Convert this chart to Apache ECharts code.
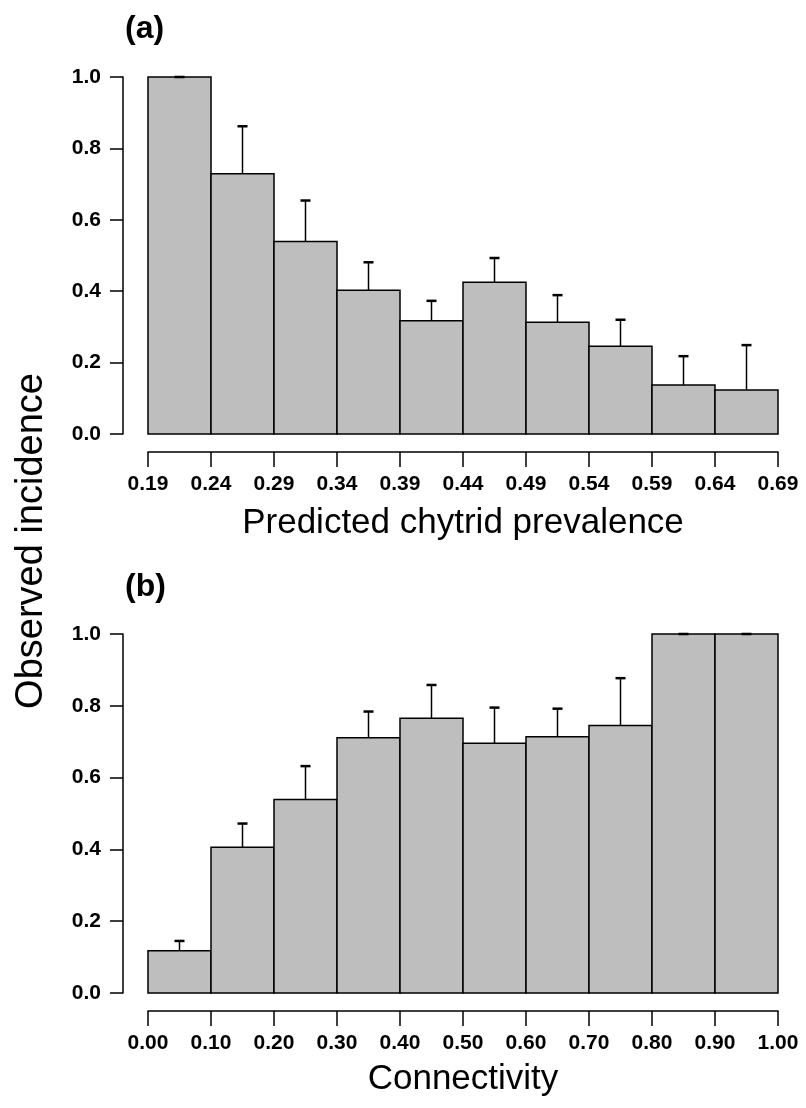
<!DOCTYPE html>
<html>
<head>
<meta charset="utf-8">
<script src="https://cdn.jsdelivr.net/npm/echarts@6/dist/echarts.min.js"></script>
<style>
  html, body { margin: 0; padding: 0; background: #fff; }
  #chart { width: 806px; height: 1108px; }
</style>
</head>
<body>
<div id="chart"></div>
<script>
// tick labels (bin edges)
const predictedTicks = ['0.19', '0.24', '0.29', '0.34', '0.39', '0.44', '0.49', '0.54', '0.59', '0.64', '0.69'];
const connectivityTicks = ['0.00', '0.10', '0.20', '0.30', '0.40', '0.50', '0.60', '0.70', '0.80', '0.90', '1.00'];

// panel (a): observed incidence per predicted prevalence bin + upper error
const incidenceA = [1.0, 0.729, 0.539, 0.403, 0.317, 0.425, 0.313, 0.246, 0.137, 0.123];
const errorA = [0.0, 0.133, 0.115, 0.078, 0.056, 0.068, 0.076, 0.074, 0.081, 0.126];

// panel (b): observed incidence per connectivity bin + upper error
const incidenceB = [0.118, 0.406, 0.539, 0.711, 0.765, 0.696, 0.714, 0.745, 1.0, 1.0];
const errorB = [0.027, 0.066, 0.093, 0.073, 0.093, 0.099, 0.078, 0.132, 0.0, 0.0];

const FONT = "'Liberation Sans', Arial, Helvetica, sans-serif";

const chart = echarts.init(document.getElementById('chart'));

// bar + error bar drawn from data through the axes
function renderBar(params, api) {
    const x0 = api.value(0);
    const x1 = api.value(1);
    const v = api.value(2);
    const e = api.value(3);
    const xm = (x0 + x1) / 2;
    const pBase = api.coord([x0, 0]);
    const pTop = api.coord([x1, v]);
    const pMid = api.coord([xm, v]);
    const pErr = api.coord([xm, v + e]);
    return {
        type: 'group',
        children: [
            {
                type: 'rect',
                shape: { x: pBase[0], y: pTop[1], width: pTop[0] - pBase[0], height: pBase[1] - pTop[1] },
                style: { fill: '#bebebe', stroke: '#000', lineWidth: 1.5 }
            },
            {
                type: 'line',
                shape: { x1: pMid[0], y1: pMid[1], x2: pErr[0], y2: pErr[1] },
                style: { stroke: '#000', lineWidth: 1.5 }
            },
            {
                type: 'line',
                shape: { x1: pErr[0] - 5, y1: pErr[1], x2: pErr[0] + 5, y2: pErr[1] },
                style: { stroke: '#000', lineWidth: 2.5 }
            }
        ]
    };
}

const toBins = (vals, errs) => vals.map((v, i) => [i, i + 1, v, errs[i]]);

function xAxisFor(gridIndex, ticks, name, gap) {
    return {
        gridIndex: gridIndex,
        type: 'value',
        min: 0,
        max: 10,
        interval: 1,
        position: 'bottom',
        offset: 18,
        splitLine: { show: false },
        axisLine: { onZero: false, lineStyle: { color: '#000', width: 1.5 } },
        axisTick: { length: 15, lineStyle: { color: '#000', width: 1.5 } },
        axisLabel: {
            color: '#000', fontSize: 21, fontWeight: 'bold', fontFamily: FONT, margin: 22,
            formatter: v => ticks[Math.round(v)]
        },
        name: name,
        nameLocation: 'middle',
        nameGap: gap,
        nameTextStyle: { color: '#000', fontSize: 35, fontFamily: FONT }
    };
}

function yAxisFor(gridIndex) {
    return {
        gridIndex: gridIndex,
        type: 'value',
        min: 0,
        max: 1,
        interval: 0.2,
        position: 'left',
        offset: 25,
        splitLine: { show: false },
        axisLine: { show: true, onZero: false, lineStyle: { color: '#000', width: 1.5 } },
        axisTick: { show: true, length: 13, lineStyle: { color: '#000', width: 1.5 } },
        axisLabel: {
            color: '#000', fontSize: 21, fontWeight: 'bold', fontFamily: FONT, margin: 22,
            formatter: v => v.toFixed(1)
        }
    };
}

const option = {
    animation: false,
    backgroundColor: '#fff',
    title: [
        { text: '(a)', left: 120, top: 8, textStyle: { fontSize: 32, fontWeight: 'bold', fontFamily: FONT, color: '#000' } },
        { text: '(b)', left: 120, top: 566, textStyle: { fontSize: 32, fontWeight: 'bold', fontFamily: FONT, color: '#000' } }
    ],
    graphic: [
        {
            type: 'text',
            x: 32,
            y: 541,
            rotation: Math.PI / 2,
            style: {
                text: 'Observed incidence',
                font: '38px ' + FONT,
                fill: '#000',
                align: 'center',
                verticalAlign: 'middle'
            }
        }
    ],
    grid: [
        { left: 148, right: 28, top: 77, height: 357 },
        { left: 148, right: 28, top: 634, height: 359 }
    ],
    xAxis: [
        xAxisFor(0, predictedTicks, 'Predicted chytrid prevalence', 54),
        xAxisFor(1, connectivityTicks, 'Connectivity', 51)
    ],
    yAxis: [yAxisFor(0), yAxisFor(1)],
    series: [
        {
            type: 'custom',
            xAxisIndex: 0,
            yAxisIndex: 0,
            renderItem: renderBar,
            encode: { x: [0, 1], y: [2, 3] },
            data: toBins(incidenceA, errorA)
        },
        {
            type: 'custom',
            xAxisIndex: 1,
            yAxisIndex: 1,
            renderItem: renderBar,
            encode: { x: [0, 1], y: [2, 3] },
            data: toBins(incidenceB, errorB)
        }
    ]
};

chart.setOption(option);
window.addEventListener('resize', () => chart.resize());
</script>
</body>
</html>
